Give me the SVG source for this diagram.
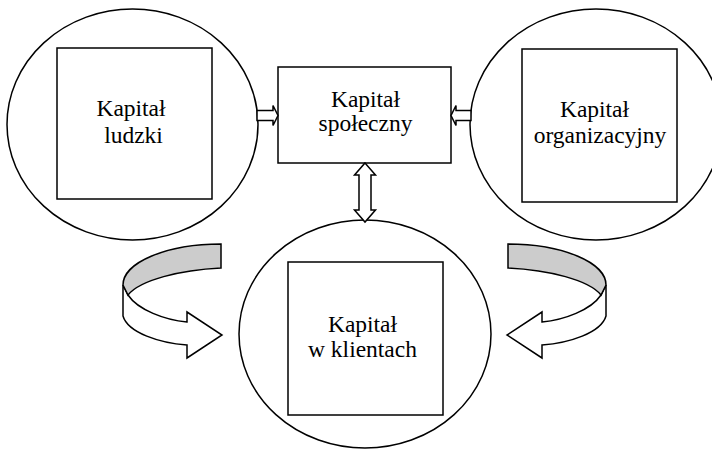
<svg xmlns="http://www.w3.org/2000/svg" width="712" height="452" viewBox="0 0 712 452">
<style>
.sh{fill:#fff;stroke:#000;stroke-width:1.5}
.ci{fill:none;stroke:#000;stroke-width:1.5}
.tx{font-family:"Liberation Serif","Times New Roman",serif;font-size:23.5px;fill:#000;text-anchor:middle}
.ar{fill:#fff;stroke:#000;stroke-width:1.5;stroke-linejoin:miter}
.gr{fill:#ccc;stroke:#000;stroke-width:1.5}
</style>
<rect width="712" height="452" fill="#fff"/>
<g id="node-ludzki">
<ellipse class="ci" cx="132.5" cy="124.5" rx="125.5" ry="115.5"/>
<rect class="sh" x="57" y="48" width="155" height="151"/>
<text class="tx" x="131" y="116">Kapitał</text>
<text class="tx" x="133.5" y="143">ludzki</text>
</g>
<g id="node-spoleczny">
<rect class="sh" x="278" y="67" width="173" height="96"/>
<text class="tx" x="365.5" y="107">Kapitał</text>
<text class="tx" x="365.5" y="131">społeczny</text>
</g>
<g id="node-organizacyjny">
<ellipse class="ci" cx="596" cy="124.5" rx="126" ry="115.5"/>
<rect class="sh" x="522" y="49" width="155" height="153"/>
<text class="tx" x="594.5" y="117">Kapitał</text>
<text class="tx" x="600" y="143">organizacyjny</text>
</g>
<g id="node-klienci">
<ellipse class="ci" cx="365" cy="334" rx="126" ry="114"/>
<rect class="sh" x="288" y="262" width="155" height="153"/>
<text class="tx" x="362.5" y="332">Kapitał</text>
<text class="tx" x="362.5" y="357">w klientach</text>
</g>
<g id="connectors">
<path class="ar" d="M257,110.5 L273,110.5 L273,105.5 L278,115.5 L273,125.5 L273,120.5 L257,120.5 Z"/>
<path class="ar" d="M471,110.5 L456,110.5 L456,105.5 L451,115.5 L456,125.5 L456,120.5 L471,120.5 Z"/>
<path class="ar" d="M365,163 L375.5,175 L371,175 L371,210 L375.5,210 L365,222 L354.5,210 L359,210 L359,175 L354.5,175 Z"/>
<g id="curved-left">
<path class="ar" d="M123,285 L123,316 C128,333 160,343 187,345 L187,358 L222,335 L187,312 L187,322 C165,320 138,310 128,295 Z"/>
<path class="gr" d="M221,244 A98,41 0 0 0 123,285 L128,295 C140,280 180,270 221,268 Z"/>
</g>
<g id="curved-right" transform="matrix(-1 0 0 1 729 0)">
<path class="ar" d="M123,285 L123,316 C128,333 160,343 187,345 L187,358 L222,335 L187,312 L187,322 C165,320 138,310 128,295 Z"/>
<path class="gr" d="M221,244 A98,41 0 0 0 123,285 L128,295 C140,280 180,270 221,268 Z"/>
</g>
</g>
</svg>
